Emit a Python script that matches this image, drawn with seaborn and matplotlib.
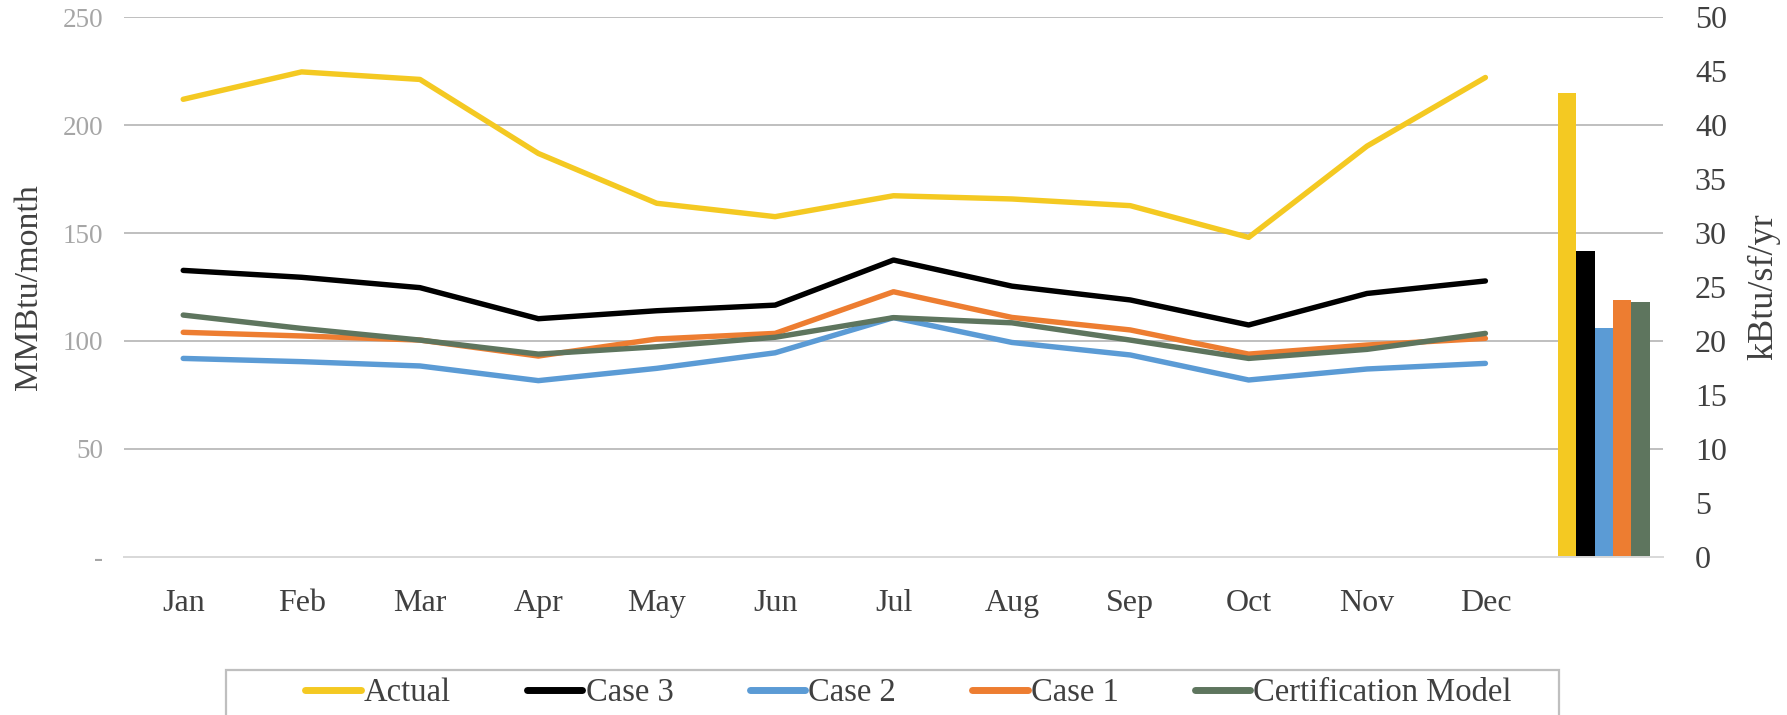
import numpy as np
import pandas as pd
import matplotlib
matplotlib.use("Agg")
import matplotlib.pyplot as plt
import seaborn as sns
from matplotlib.lines import Line2D
from matplotlib.patches import Rectangle
from matplotlib.ticker import FuncFormatter

months = ["Jan", "Feb", "Mar", "Apr", "May", "Jun", "Jul", "Aug", "Sep", "Oct", "Nov", "Dec"]
series = ["Actual", "Case 3", "Case 2", "Case 1", "Certification Model"]
colors = ["#F4C922", "#000000", "#5B9BD5", "#ED7D31", "#5E755E"]

# monthly use, MMBtu/month
actual = [212.0, 224.7, 221.2, 186.9, 163.8, 157.6, 167.3, 165.8, 162.7, 148.0, 190.3, 222.1]
case3 = [132.7, 129.5, 124.7, 110.3, 114.0, 116.6, 137.5, 125.4, 119.0, 107.4, 122.0, 127.8]
case2 = [91.9, 90.4, 88.4, 81.6, 87.3, 94.5, 110.8, 99.3, 93.5, 81.9, 87.0, 89.6]
case1 = [104.0, 102.3, 100.4, 93.0, 100.9, 103.5, 122.8, 110.9, 105.1, 93.9, 98.1, 101.2]
cert = [112.0, 105.8, 100.4, 93.9, 97.3, 101.7, 110.8, 108.4, 100.4, 91.9, 96.1, 103.5]

# annual EUI, kBtu/sf/yr
annual = [43.0, 28.3, 21.2, 23.8, 23.6]

sns.set_theme(style="white")
plt.rcParams["font.family"] = ["Liberation Serif", "DejaVu Serif"]

palette = dict(zip(series, colors))
text_col = "#404040"

# long table for seaborn
monthly = pd.DataFrame({
    "idx": list(range(12)) * 5,
    "series": np.repeat(series, 12),
    "value": actual + case3 + case2 + case1 + cert,
})

fig = plt.figure(figsize=(17.87, 7.15), dpi=100)
ax = fig.add_axes([0.0694, 0.2214, 0.8612, 0.7544])

sns.lineplot(data=monthly, x="idx", y="value", hue="series", hue_order=series,
             palette=palette, linewidth=3.9, legend=False, ax=ax,
             solid_capstyle="round", solid_joinstyle="round")

ax2 = ax.twinx()
sns.barplot(x=[12] * 5, y=annual, hue=series, hue_order=series, palette=palette,
            native_scale=True, width=0.78, dodge=True, saturation=1,
            linewidth=0, legend=False, ax=ax2)

ax.set_xlim(-0.5, 12.5)
ax.set_ylim(0, 250)
ax2.set_ylim(0, 50)
ax.set_xticks(range(12))
ax.set_xticklabels(months)
ax.set_yticks(range(0, 251, 50))
ax.yaxis.set_major_formatter(FuncFormatter(lambda v, p: "-" if v == 0 else f"{int(v)}"))
ax2.set_yticks(range(0, 51, 5))

ax.yaxis.grid(True, color="#BFBFBF", linewidth=1.4)
ax.xaxis.grid(False)
ax2.grid(False)
ax.set_axisbelow(True)
for a in (ax, ax2):
    for s in ["top", "left", "right"]:
        a.spines[s].set_visible(False)
    a.spines["bottom"].set_color("#D9D9D9")
    a.spines["bottom"].set_linewidth(1.4)
fig.canvas.draw()
ax.yaxis.get_major_ticks()[0].gridline.set_visible(False)

ax.tick_params(axis="y", length=0, pad=15, labelsize=19.5, labelcolor="#A6A6A6")
ax.tick_params(axis="x", length=0, pad=23, labelsize=23, labelcolor=text_col)
ax2.tick_params(axis="y", length=0, pad=23, labelsize=23, labelcolor=text_col)

ax.set_xlabel("")
ax.set_ylabel("MMBtu/month", fontsize=24.5, color=text_col)
ax.yaxis.set_label_coords(-0.052, 0.5)
ax2.set_ylabel("kBtu/sf/yr", fontsize=26, color=text_col)
ax2.yaxis.set_label_coords(1.055, 0.5)

handles = [Line2D([0], [0], color=c, lw=5, solid_capstyle="round") for c in colors]
fig.legend(handles, series, loc="center", bbox_to_anchor=(0.5084, 0.031), ncol=5,
           frameon=False, fontsize=23.5, handlelength=1.7, handletextpad=0.1,
           columnspacing=2.33, labelcolor=text_col)
fig.patches.append(Rectangle((226 / 1787, -0.05), (1559 - 226) / 1787, 0.05 + 0.0629,
                             transform=fig.transFigure, fill=False,
                             edgecolor="#BFBFBF", linewidth=1.6))

fig.savefig("out.png", dpi=100)
